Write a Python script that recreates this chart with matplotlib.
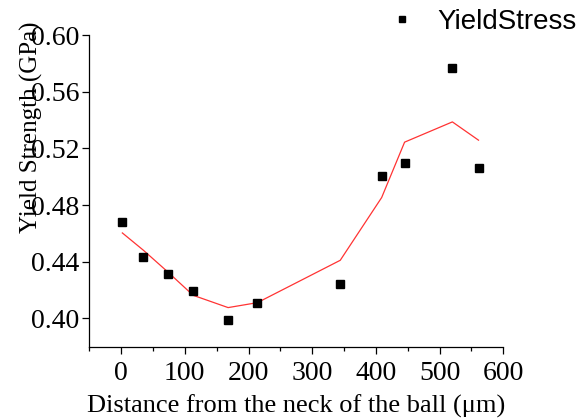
import matplotlib.pyplot as plt
from matplotlib.ticker import MultipleLocator

distance = [2, 35, 74, 113, 168, 214, 344, 409, 445, 520, 561]
yield_stress = [0.4683, 0.4436, 0.4316, 0.4191, 0.3986, 0.4111, 0.4245,
                0.5008, 0.5100, 0.5769, 0.5058]
fit_stress = [0.4603, 0.4481, 0.4325, 0.4163, 0.4076, 0.4111, 0.4410,
              0.4853, 0.5244, 0.5387, 0.5258]

SERIF = 'Liberation Serif'
SANS = 'Liberation Sans'

fig = plt.figure(figsize=(5.87, 4.18), dpi=100)
ax = fig.add_axes([0.152, 0.1706, 0.7055, 0.7455])

ax.plot(distance, fit_stress, color='#ff3333', linewidth=0.9, zorder=2)
pts, = ax.plot(distance, yield_stress, linestyle='none', marker='s',
               markersize=5.5, color='black', zorder=3)

ax.set_xlim(-50, 600)
ax.set_ylim(0.38, 0.60)
ax.xaxis.set_major_locator(MultipleLocator(100))
ax.xaxis.set_minor_locator(MultipleLocator(50))
ax.yaxis.set_major_locator(MultipleLocator(0.04))
ax.yaxis.set_major_formatter(plt.FormatStrFormatter('%.2f'))

for side in ['top', 'right']:
    ax.spines[side].set_visible(False)
for side in ['left', 'bottom']:
    ax.spines[side].set_linewidth(0.9)

ax.tick_params(axis='both', which='major', direction='out', length=5,
               width=0.9, labelsize=20, pad=2)
ax.tick_params(axis='x', which='major', pad=5.5)
ax.tick_params(axis='x', which='minor', direction='out', length=3, width=0.9)
for lab in ax.get_xticklabels() + ax.get_yticklabels():
    lab.set_fontfamily(SERIF)

ax.set_xlabel('Distance from the neck of the ball (μm)', fontsize=19,
              fontfamily=SERIF, labelpad=6)
ax.set_ylabel('Yield Strength (GPa)', fontsize=18, fontfamily=SERIF)
ax.yaxis.set_label_coords(-0.112, 0.705)

leg = fig.legend([pts], ['YieldStress'], loc='center left',
                 bbox_to_anchor=(0.621, 0.948), frameon=False,
                 prop={'family': SANS, 'size': 20}, markerscale=0.8,
                 handlelength=0.9, handletextpad=0.83)

fig.savefig('out.png', dpi=100)
